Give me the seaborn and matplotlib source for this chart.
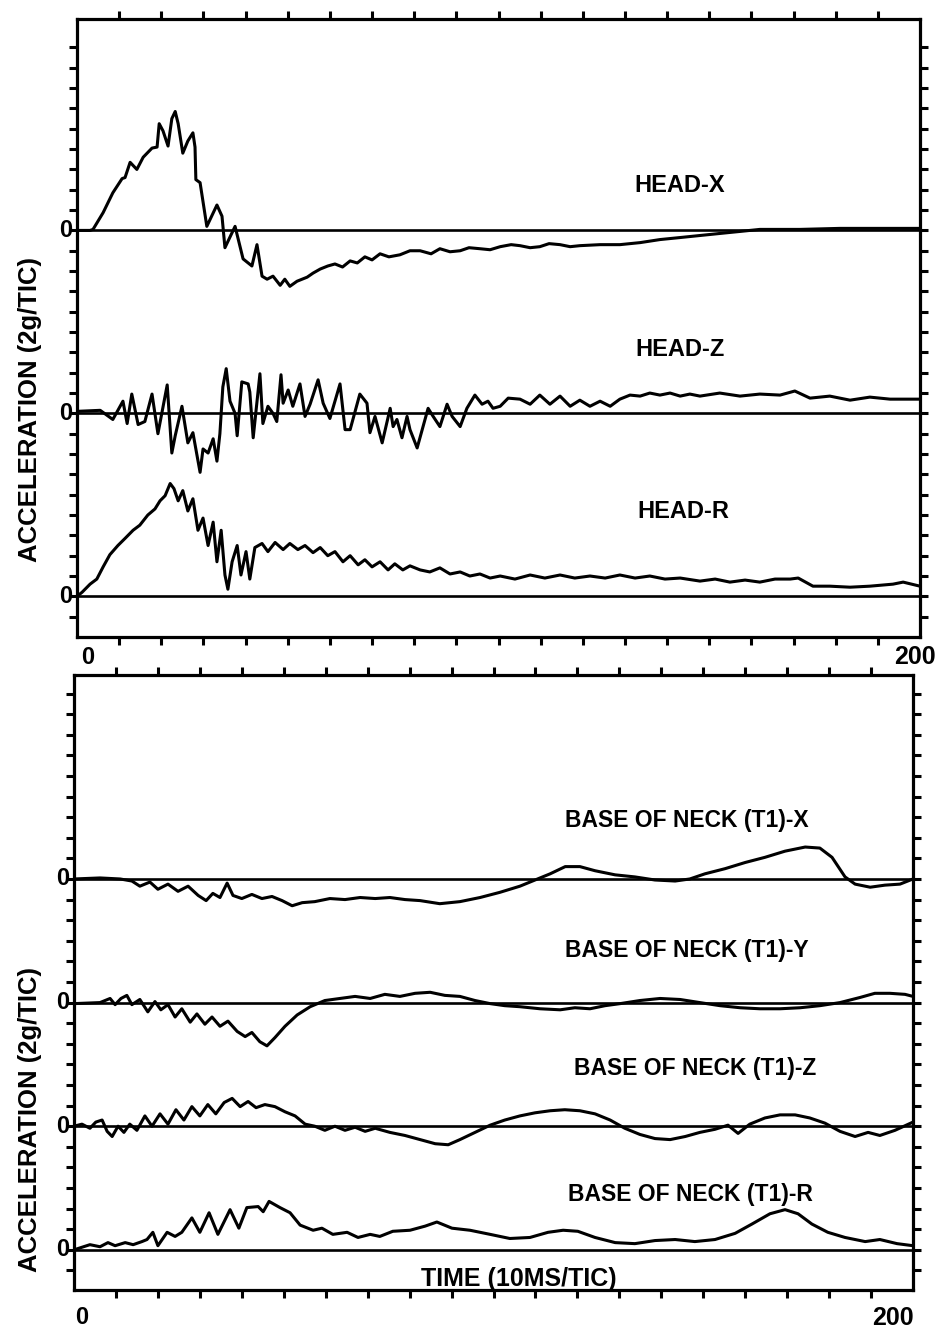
import numpy as np
import pandas as pd
import matplotlib
matplotlib.use("Agg")
import matplotlib.pyplot as plt
import matplotlib.transforms as mtrans
import seaborn as sns

# ---------------- data (time in 10 ms/tic units 0..200, acceleration in g) -------------
head_x_t = [0, 3.1, 3.8, 6.2, 8.5, 10.7, 11.4, 12.6, 14.2, 15.7, 17.8, 19.0, 19.5, 20.4, 21.6,
            22.5, 23.3, 24.0, 25.1, 26.3, 27.5, 28.0, 28.2, 29.2, 30.8, 33.2, 34.4, 35.1, 37.5,
            39.4, 41.5, 42.7, 43.9, 45.1, 46.5, 48.2, 49.3, 50.5, 52.2, 54.6, 56.0, 57.7, 59.5,
            61.2, 63.0, 64.8, 66.5, 68.3, 70.0, 71.9, 74.0, 76.6, 79.0, 81.4, 84.0, 86.1, 88.5,
            90.9, 93.0, 95.6, 98.0, 100.4, 103.0, 105.1, 107.5, 109.8, 112.0, 114.6, 117.0, 119.3,
            124.1, 128.8, 133.6, 138.3, 143.1, 147.8, 152.5, 157.3, 162.0, 171.5, 181.0, 190.5, 200]
head_x_g = [0, 0, 0.1, 1.75, 3.7, 5.1, 5.2, 6.7, 6.0, 7.2, 8.1, 8.2, 10.5, 9.8, 8.3,
            11.0, 11.7, 10.5, 7.6, 8.8, 9.6, 8.2, 5.0, 4.7, 0.4, 2.5, 1.4, -1.7, 0.4,
            -2.8, -3.5, -1.4, -4.5, -4.8, -4.5, -5.4, -4.8, -5.5, -5.0, -4.6, -4.2, -3.8, -3.5,
            -3.3, -3.6, -3.0, -3.2, -2.6, -2.9, -2.3, -2.6, -2.4, -2.0, -2.0, -2.3, -1.8, -2.1,
            -2.0, -1.7, -1.8, -1.9, -1.6, -1.4, -1.5, -1.7, -1.6, -1.3, -1.4, -1.6, -1.5,
            -1.4, -1.4, -1.2, -0.9, -0.7, -0.5, -0.3, -0.1, 0.1, 0.1, 0.2, 0.2, 0.2]

head_z_t = [0, 5.5, 8.5, 10.9, 11.9, 13.0, 14.5, 16.1, 17.8, 19.2, 21.4, 22.5, 23.3, 24.9, 26.3,
            27.5, 28.5, 29.2, 29.9, 31.1, 32.3, 33.2, 33.9, 34.6, 35.4, 36.3, 37.5, 38.0, 39.1,
            40.6, 41.0, 41.8, 43.4, 44.1, 45.3, 46.5, 47.4, 48.4, 48.9, 50.1, 51.2, 52.9, 54.1,
            55.3, 57.2, 58.4, 60.0, 62.4, 63.6, 64.8, 67.1, 68.8, 69.5, 70.7, 72.4, 74.3, 75.0,
            75.9, 77.1, 78.3, 79.0, 80.7, 82.1, 83.3, 84.5, 86.1, 87.8, 89.0, 90.9, 92.5, 94.4,
            96.1, 97.5, 98.7, 100.4, 102.3, 105.1, 107.5, 109.8, 112.2, 114.6, 117.0, 119.3,
            121.7, 124.1, 126.5, 128.8, 131.2, 133.6, 135.9, 138.3, 140.7, 143.1, 145.4, 147.8,
            152.5, 157.3, 162.0, 166.8, 170.3, 173.9, 178.6, 183.4, 188.1, 192.9, 200]
head_z_g = [0.2, 0.3, -0.6, 1.2, -1.0, 1.9, -1.1, -0.8, 1.9, -2.0, 2.8, -3.9, -2.2, 0.7, -2.9,
            -1.9, -4.2, -5.8, -3.5, -3.9, -2.5, -4.7, -2.0, 2.6, 4.4, 1.2, 0.0, -2.2, 3.1,
            2.9, 2.1, -2.4, 3.9, -1.0, 0.7, 0.0, -0.8, 3.8, 1.0, 2.3, 0.7, 2.9, -0.3,
            0.9, 3.3, 1.0, -0.5, 2.9, -1.6, -1.6, 1.9, 1.0, -1.9, -0.3, -2.9, 0.5, -1.3,
            -0.6, -2.4, -0.3, -1.6, -3.4, -1.3, 0.5, -0.3, -1.3, 0.9, -0.3, -1.3, 0.5, 1.8,
            0.9, 1.2, 0.5, 0.7, 1.5, 1.4, 0.9, 1.8, 0.9, 1.7, 0.7, 1.3,
            0.7, 1.2, 0.7, 1.4, 1.8, 1.7, 2.0, 1.8, 2.0, 1.7, 1.9, 1.7,
            2.0, 1.7, 1.9, 1.8, 2.2, 1.5, 1.7, 1.3, 1.6, 1.4, 1.4]

head_r_t = [0, 1.2, 3.1, 4.7, 6.2, 7.8, 9.7, 11.4, 13.3, 14.9, 16.8, 18.5, 19.7, 20.9, 22.1,
            23.0, 24.0, 25.1, 26.3, 27.5, 28.7, 29.9, 31.1, 32.3, 33.2, 34.2, 35.1, 35.8, 36.8,
            38.0, 38.9, 40.1, 41.0, 42.2, 43.9, 45.3, 47.0, 48.9, 50.5, 52.4, 54.1, 56.0, 57.7,
            59.5, 61.2, 63.1, 64.8, 66.7, 68.3, 70.0, 71.9, 73.8, 75.4, 77.3, 79.0, 81.4, 83.7,
            86.1, 88.5, 90.9, 93.2, 95.6, 98.0, 100.4, 103.9, 107.5, 111.0, 114.6, 118.1, 121.7,
            125.3, 128.8, 132.4, 135.9, 139.5, 143.1, 147.8, 151.4, 154.9, 158.5, 162.0, 165.6,
            169.2, 171.1, 174.6, 178.6, 183.4, 188.1, 193.6, 196.0, 200]
head_r_g = [0, 0.4, 1.2, 1.7, 2.9, 4.1, 5.0, 5.7, 6.5, 7.0, 8.0, 8.6, 9.4, 9.9, 11.1,
            10.6, 9.4, 10.4, 8.4, 9.6, 6.5, 7.7, 5.0, 7.3, 3.4, 6.5, 2.1, 0.7, 3.4,
            5.0, 2.1, 4.4, 1.7, 4.8, 5.2, 4.4, 5.3, 4.6, 5.2, 4.6, 5.0, 4.3, 4.8,
            4.0, 4.4, 3.4, 4.0, 3.1, 3.6, 2.9, 3.4, 2.6, 3.2, 2.6, 3.0, 2.6, 2.4,
            2.8, 2.2, 2.4, 2.0, 2.2, 1.8, 2.0, 1.7, 2.1, 1.8, 2.1, 1.8, 2.0,
            1.8, 2.1, 1.8, 2.0, 1.7, 1.8, 1.5, 1.7, 1.4, 1.6, 1.4, 1.7,
            1.7, 1.8, 1.0, 1.0, 0.9, 1.0, 1.2, 1.4, 1.0]

neck_x_t = [0, 6.2, 11.0, 13.8, 15.7, 18.1, 20.0, 22.4, 24.8, 27.2, 29.6, 31.5, 33.1, 34.8,
            36.5, 37.9, 40.0, 42.4, 44.8, 47.2, 49.6, 52.0, 54.4, 57.4, 61.0, 64.6, 68.2, 71.8,
            75.3, 78.9, 82.5, 87.2, 92.0, 96.8, 101.5, 106.3, 111.1, 113.5, 117.1, 120.6, 124.2,
            129.0, 133.7, 138.5, 143.3, 146.8, 150.4, 155.2, 160.0, 164.7, 169.5, 174.3, 177.8,
            180.7, 183.8, 186.2, 189.8, 193.3, 196.9, 200]
neck_x_g = [0, 0.1, 0, -0.2, -0.7, -0.3, -1.0, -0.5, -1.2, -0.7, -1.6, -2.1, -1.4, -1.8,
            -0.4, -1.6, -1.9, -1.5, -1.9, -1.7, -2.1, -2.6, -2.3, -2.2, -1.9, -2.0, -1.8, -1.9,
            -1.8, -2.0, -2.1, -2.4, -2.2, -1.8, -1.3, -0.7, 0.1, 0.5, 1.2, 1.2, 0.8,
            0.4, 0.2, -0.1, -0.2, 0, 0.5, 1.0, 1.6, 2.1, 2.7, 3.1, 3.0,
            2.1, 0.2, -0.5, -0.8, -0.6, -0.5, 0]

neck_y_t = [0, 6.2, 8.6, 9.8, 11.2, 12.6, 13.8, 15.7, 17.6, 19.3, 20.7, 22.4, 24.1, 25.7, 27.7,
            29.3, 31.2, 32.9, 34.8, 36.7, 38.9, 40.8, 42.4, 44.3, 46.0, 47.9, 50.3, 53.2, 56.3,
            59.8, 63.4, 67.0, 70.6, 74.1, 77.7, 81.3, 84.9, 88.4, 92.0, 95.6, 99.2, 102.7, 106.3,
            111.1, 115.9, 119.4, 123.0, 126.6, 130.2, 134.9, 139.7, 144.5, 149.2, 154.0, 158.8,
            163.5, 168.3, 173.1, 177.8, 182.6, 187.4, 190.9, 194.5, 198.1, 200]
neck_y_g = [-0.1, 0, 0.4, -0.2, 0.4, 0.7, -0.2, 0.3, -0.9, 0.1, -0.7, -0.2, -1.4, -0.6, -1.9,
            -1.1, -2.1, -1.4, -2.3, -1.8, -2.8, -3.3, -2.9, -3.8, -4.2, -3.4, -2.3, -1.2, -0.4,
            0.2, 0.4, 0.6, 0.4, 0.8, 0.6, 0.9, 1.0, 0.7, 0.6, 0.2, -0.1, -0.3, -0.4,
            -0.6, -0.7, -0.5, -0.6, -0.3, -0.1, 0.2, 0.4, 0.3, 0, -0.3, -0.5,
            -0.6, -0.6, -0.5, -0.3, 0, 0.5, 0.9, 0.9, 0.8, 0.6]

neck_z_t = [0, 1.9, 3.8, 5.2, 6.7, 7.9, 9.1, 10.5, 11.9, 13.3, 15.0, 16.9, 18.6, 20.5, 22.4,
            24.3, 26.2, 28.1, 30.0, 31.9, 33.8, 35.8, 37.7, 39.6, 41.5, 43.4, 45.5, 47.9, 50.3,
            52.7, 55.1, 57.4, 59.8, 62.2, 64.6, 67.0, 69.4, 71.8, 75.3, 78.9, 82.5, 86.1, 89.2,
            92.0, 95.6, 99.2, 102.7, 106.3, 109.9, 113.5, 117.0, 120.6, 124.2, 127.8, 131.3,
            134.9, 138.5, 142.1, 145.7, 149.2, 152.8, 155.9, 158.3, 161.1, 164.7, 168.3, 171.9,
            175.4, 179.0, 182.6, 186.2, 189.3, 192.1, 195.7, 200]
neck_z_g = [0, 0.2, -0.2, 0.4, 0.6, -0.5, -1.0, 0, -0.6, 0.2, -0.4, 1.0, 0, 1.2, 0.2,
            1.6, 0.6, 1.9, 1.0, 2.1, 1.2, 2.3, 2.7, 1.9, 2.4, 1.8, 2.1, 1.9, 1.4,
            1.0, 0.2, 0, -0.4, 0, -0.4, -0.1, -0.5, -0.2, -0.6, -0.9, -1.3, -1.7, -1.8,
            -1.3, -0.6, 0.1, 0.6, 1.0, 1.3, 1.5, 1.6, 1.5, 1.2, 0.6, -0.2,
            -0.8, -1.2, -1.3, -1.0, -0.6, -0.3, 0.1, -0.7, 0.2, 0.8, 1.1, 1.1,
            0.8, 0.3, -0.5, -1.0, -0.6, -0.9, -0.4, 0.4]

neck_r_t = [0, 3.8, 6.2, 8.1, 9.8, 12.2, 14.1, 16.2, 17.4, 18.8, 20.0, 22.2, 24.1, 25.7, 28.1,
            30.0, 32.2, 34.3, 37.2, 39.3, 41.2, 43.9, 45.1, 46.5, 49.1, 51.5, 53.9, 57.0, 59.1,
            61.7, 65.1, 67.7, 70.6, 72.9, 76.0, 80.1, 83.7, 86.5, 90.1, 94.4, 99.2, 103.9, 108.7,
            113.0, 116.6, 120.1, 124.2, 129.0, 133.7, 138.5, 143.3, 148.0, 152.8, 157.6, 161.6,
            165.9, 169.5, 172.6, 175.9, 179.7, 183.8, 188.6, 192.1, 196.2, 200]
neck_r_g = [0, 0.5, 0.3, 0.7, 0.4, 0.7, 0.5, 0.8, 1.0, 1.7, 0.4, 1.7, 1.3, 1.7, 3.1,
            1.7, 3.6, 1.5, 3.9, 2.1, 4.1, 4.2, 3.7, 4.7, 4.1, 3.6, 2.4, 1.9, 2.1,
            1.5, 1.7, 1.2, 1.5, 1.3, 1.8, 1.9, 2.3, 2.7, 2.1, 1.9, 1.5, 1.1, 1.2,
            1.7, 1.9, 1.8, 1.2, 0.7, 0.6, 0.9, 1.0, 0.8, 1.0, 1.6, 2.5,
            3.5, 3.9, 3.5, 2.5, 1.7, 1.2, 0.8, 1.0, 0.6, 0.4]

top_names = ["HEAD-X", "HEAD-Z", "HEAD-R"]
bottom_names = ["BASE OF NECK (T1)-X", "BASE OF NECK (T1)-Y",
                "BASE OF NECK (T1)-Z", "BASE OF NECK (T1)-R"]
x_tick_labels = ["0", "200"]
y_label = "ACCELERATION (2g/TIC)"
x_label = "TIME (10MS/TIC)"

# ---------------- style ----------------
sns.set_style("ticks")
plt.rcParams["font.family"] = ["Liberation Sans", "DejaVu Sans"]
plt.rcParams["text.color"] = "black"

W, H = 939, 1332
fig = plt.figure(figsize=(W / 100, H / 100), dpi=100)

def fx(px):
    return px / W

def fy(py):
    return 1 - py / H

ax_top = fig.add_axes([fx(77), fy(637), fx(920) - fx(77), (637 - 19) / H])
ax_bot = fig.add_axes([fx(74), fy(1290), fx(913) - fx(74), (1290 - 675) / H])

LW = 2.2

def draw(ax, t, g, offset):
    df = pd.DataFrame({"t": t, "y": offset + np.asarray(g) / 2.0})
    sns.lineplot(data=df, x="t", y="y", ax=ax, color="black", lw=LW,
                 estimator=None, sort=False, solid_joinstyle="round",
                 solid_capstyle="round")
    ax.axhline(offset, color="black", lw=1.9, zorder=1)

top_curves = [(head_x_t, head_x_g, 18), (head_z_t, head_z_g, 9), (head_r_t, head_r_g, 0)]
bot_curves = [(neck_x_t, neck_x_g, 18), (neck_y_t, neck_y_g, 12),
              (neck_z_t, neck_z_g, 6), (neck_r_t, neck_r_g, 0)]

for t, g, off in top_curves:
    draw(ax_top, t, g, off)
for t, g, off in bot_curves:
    draw(ax_bot, t, g, off)

ax_top.set_ylim(-2.0, 28.4)
ax_bot.set_ylim(-1.95, 27.9)

for ax in (ax_top, ax_bot):
    ax.set_xlim(0, 200)
    ax.set_xlabel("")
    ax.set_ylabel("")
    ax.set_xticks(np.arange(10, 200, 10))
    ax.set_yticks(np.arange(-1, 28, 1))
    ax.tick_params(axis="both", direction="out", length=6, width=2.2, color="black",
                   top=True, bottom=True, left=True, right=True,
                   labelbottom=False, labelleft=False, labeltop=False, labelright=False)
    for sp in ax.spines.values():
        sp.set_visible(True)
        sp.set_linewidth(2.3)
        sp.set_color("black")

# zero labels on left
FS = 17
for ax, offs in ((ax_top, [18, 9, 0]), (ax_bot, [18, 12, 6, 0])):
    tr = mtrans.blended_transform_factory(ax.transAxes, ax.transData)
    for o in offs:
        ax.text(-0.006, o, "0", transform=tr, ha="right", va="center",
                fontsize=FS, fontweight="bold", color="black")

# curve labels
for name, (cx, cy) in zip(top_names, [(680, 186), (680, 350), (683, 512)]):
    fig.text(fx(cx), fy(cy), name, ha="center", va="center", fontsize=17,
             fontweight="bold")
for name, (cx, cy) in zip(bottom_names, [(687, 820), (687, 950), (695, 1068), (690, 1195)]):
    fig.text(fx(cx), fy(cy), name, ha="center", va="center", fontsize=16.5,
             fontweight="bold")

# x tick labels between / below panels
fig.text(fx(88), fy(657), x_tick_labels[0], ha="center", va="center", fontsize=17,
         fontweight="bold")
fig.text(fx(915), fy(657), x_tick_labels[1], ha="center", va="center", fontsize=18,
         fontweight="bold")
fig.text(fx(82), fy(1318), x_tick_labels[0], ha="center", va="center", fontsize=17,
         fontweight="bold")
fig.text(fx(893), fy(1318), x_tick_labels[1], ha="center", va="center", fontsize=18,
         fontweight="bold")

# axis titles
fig.text(fx(30), fy(410), y_label, rotation=90, ha="center", va="center", fontsize=18.5,
         fontweight="bold")
fig.text(fx(30), fy(1120), y_label, rotation=90, ha="center", va="center", fontsize=18.5,
         fontweight="bold")
fig.text(fx(519), fy(1279), x_label, ha="center", va="center", fontsize=18,
         fontweight="bold")

fig.savefig("out.png", dpi=100, facecolor="white")
